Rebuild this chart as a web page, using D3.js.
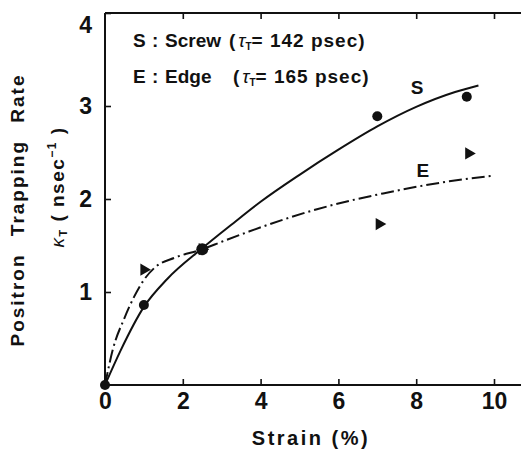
<!DOCTYPE html>
<html>
<head>
<meta charset="utf-8">
<script src="https://cdn.jsdelivr.net/npm/d3@7"></script>
<style>
  body { margin: 0; background: #fff; }
  svg text { font-family: "Liberation Sans", Arial, sans-serif; font-weight: bold; fill: #111; }
</style>
</head>
<body>
<div id="chart"></div>
<script>
var width = 521;
var height = 449;

// measured points
var screwStrain = [0, 1.0, 2.5, 7.0, 9.3];
var screwRate   = [0, 0.86, 1.46, 2.89, 3.10];
var edgeStrain  = [1.0, 2.5, 7.05, 9.35];
var edgeRate    = [1.24, 1.46, 1.73, 2.49];

// fitted curves
var screwCurveX = [0, 0.4, 1.0, 1.6, 2.5, 3.3, 4.0, 5.0, 6.0, 7.0, 8.0, 9.0, 9.6];
var screwCurveY = [0, 0.37, 0.84, 1.14, 1.47, 1.74, 1.97, 2.26, 2.53, 2.78, 2.99, 3.15, 3.22];
var edgeCurveX  = [0, 0.2, 0.5, 0.75, 1.0, 1.3, 1.8, 2.5, 3.0, 3.7, 5.45, 7.15, 8.85, 9.95];
var edgeCurveY  = [0, 0.38, 0.72, 0.95, 1.13, 1.27, 1.37, 1.46, 1.54, 1.65, 1.89, 2.06, 2.19, 2.25];

var xTicks = [0, 2, 4, 6, 8, 10];
var yTicks = [0, 1, 2, 3, 4];

var svg = d3.select('#chart').append('svg').attr('width', width).attr('height', height);

var x = d3.scaleLinear().domain([0, 10]).range([105, 494]);
var y = d3.scaleLinear().domain([0, 4]).range([385, 13]);

// frame lines (left, top, bottom) - no right side in the figure
var frame = svg.append('g').attr('stroke', '#111').attr('stroke-width', 2).attr('fill', 'none');
frame.append('line').attr('x1', x(0)).attr('x2', x(0)).attr('y1', y(0)).attr('y2', y(4));
frame.append('line').attr('x1', x(0)).attr('x2', width).attr('y1', y(4)).attr('y2', y(4));
frame.append('line').attr('x1', x(0)).attr('x2', width).attr('y1', y(0)).attr('y2', y(0));

var xAxis = svg.append('g')
  .attr('transform', 'translate(0,' + y(0) + ')')
  .call(d3.axisBottom(x).tickValues(xTicks).tickSizeInner(-6).tickSizeOuter(0).tickPadding(8));
var xTop = svg.append('g')
  .attr('transform', 'translate(0,' + y(4) + ')')
  .call(d3.axisTop(x).tickValues(xTicks.slice(1)).tickSizeInner(-6).tickSizeOuter(0).tickFormat(''));
var yAxis = svg.append('g')
  .attr('transform', 'translate(' + x(0) + ',0)')
  .call(d3.axisLeft(y).tickValues(yTicks.slice(1)).tickFormat(d3.format('d'))
    .tickSizeInner(-6).tickSizeOuter(0).tickPadding(13));

[xAxis, xTop, yAxis].forEach(function(g) {
  g.select('.domain').remove();
  g.selectAll('.tick line').attr('stroke', '#111').attr('stroke-width', 1.6);
  g.selectAll('.tick text').attr('font-size', 23).attr('font-family', null).attr('fill', '#111');
});
// the top label "4" sits a bit below its tick
yAxis.selectAll('.tick text').filter(function(d) { return d == 4; }).attr('dy', '0.85em');

// curves
var screwLine = d3.line().x(function(d, i) { return x(screwCurveX[i]); })
  .y(function(d, i) { return y(screwCurveY[i]); }).curve(d3.curveMonotoneX);
var edgeLine = d3.line().x(function(d, i) { return x(edgeCurveX[i]); })
  .y(function(d, i) { return y(edgeCurveY[i]); }).curve(d3.curveMonotoneX);

svg.append('path').attr('d', screwLine(screwCurveX))
  .attr('fill', 'none').attr('stroke', '#111').attr('stroke-width', 2);
svg.append('path').attr('d', edgeLine(edgeCurveX))
  .attr('fill', 'none').attr('stroke', '#111').attr('stroke-width', 2)
  .attr('stroke-dasharray', '13,4,2,4');

// edge points (triangles pointing right)
svg.selectAll('.edge')
  .data(edgeStrain)
  .enter()
  .append('path')
  .attr('class', 'edge')
  .attr('d', d3.symbol().type(d3.symbolTriangle).size(65))
  .attr('transform', function(d, i) { return 'translate(' + x(d) + ',' + y(edgeRate[i]) + ') rotate(90)'; })
  .attr('fill', '#111');

// screw points
svg.selectAll('.screw')
  .data(screwStrain)
  .enter()
  .append('circle')
  .attr('class', 'screw')
  .attr('cx', function(d) { return x(d); })
  .attr('cy', function(d, i) { return y(screwRate[i]); })
  .attr('r', function(d, i) { return i == 2 ? 6 : 5; })
  .attr('fill', '#111');

// curve labels
svg.append('text').attr('x', x(8.02)).attr('y', y(3.2) + 7).attr('text-anchor', 'middle')
  .attr('font-size', 19).text('S');
svg.append('text').attr('x', x(8.17)).attr('y', y(2.31) + 7).attr('text-anchor', 'middle')
  .attr('font-size', 19).text('E');

// legend text
function legendLine(yy, key, name, openX, value) {
  var t = svg.append('text').attr('y', yy).attr('font-size', 19);
  t.append('tspan').attr('x', 133).text(key);
  t.append('tspan').attr('x', 152).text(':');
  t.append('tspan').attr('x', 165).text(name);
  t.append('tspan').attr('x', openX).text('(');
  t.append('tspan').attr('dx', 3).attr('font-style', 'italic').attr('font-weight', 'normal').text('τ');
  t.append('tspan').attr('font-size', 10).attr('dy', 3).text('T');
  t.append('tspan').attr('dy', -3).attr('letter-spacing', 1).text('= ' + value + ' psec)');
}
legendLine(47, 'S', 'Screw', 229, 142);
legendLine(83, 'E', 'Edge', 233, 165);

// axis titles
svg.append('text')
  .attr('transform', 'translate(24,210) rotate(-90)')
  .attr('text-anchor', 'middle')
  .attr('font-size', 19)
  .attr('letter-spacing', 2)
  .attr('word-spacing', 10)
  .text('Positron Trapping Rate');

var k = svg.append('text')
  .attr('transform', 'translate(64,187) rotate(-90)')
  .attr('text-anchor', 'middle')
  .attr('font-size', 19)
  .attr('letter-spacing', 1.5);
k.append('tspan').attr('font-style', 'italic').attr('font-weight', 'normal').text('κ');
k.append('tspan').attr('font-size', 11).attr('dy', 3).text('T');
k.append('tspan').attr('dy', -3).text(' ( nsec');
k.append('tspan').attr('font-size', 12).attr('dy', -8).text('−1');
k.append('tspan').attr('dy', 8).text(' )');

svg.append('text')
  .attr('x', 311).attr('y', 445)
  .attr('text-anchor', 'middle')
  .attr('font-size', 20)
  .attr('letter-spacing', 2.5)
  .text('Strain (%)');
</script>
</body>
</html>
